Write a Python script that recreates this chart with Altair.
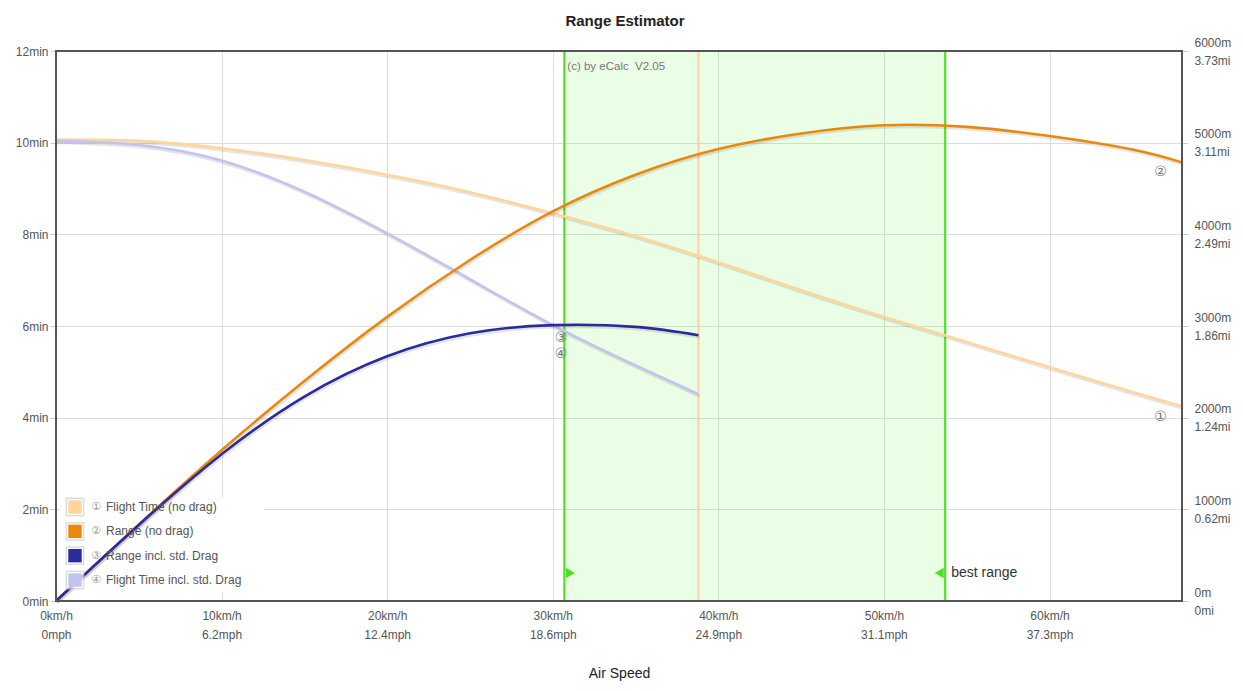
import altair as alt
import pandas as pd

TITLE = "Range Estimator"
X_TITLE = "Air Speed"
COPYRIGHT = "(c) by eCalc\u00a0 V2.05"
BEST_LABEL = "best range"
FONT = "Liberation Sans"

series_names = ["Flight Time (no drag)", "Range (no drag)",
                "Range incl. std. Drag", "Flight Time incl. std. Drag"]
series_marks = ["\u2460", "\u2461", "\u2462", "\u2463"]
series_colors = ["#ffd59e", "#e8890b", "#2b2b9e", "#c3c3f0"]

# speeds in km/h
speed_full = [0, 5, 10, 15, 20, 25, 30, 35, 40, 45, 50, 55, 60, 65, 68]
time_nodrag = [10.07, 10.04, 9.88, 9.62, 9.30, 8.92, 8.46, 7.96, 7.39, 6.78,
               6.20, 5.65, 5.10, 4.56, 4.25]            # minutes
range_nodrag = [0, 835, 1645, 2400, 3100, 3720, 4250, 4650, 4930, 5100,
                5190, 5172, 5072, 4925, 4785]            # metres

speed_drag = [0, 5, 10, 15, 20, 25, 30, 35, 38.8]
time_drag = [10.04, 9.95, 9.61, 8.93, 8.02, 7.02, 6.02, 5.14, 4.51]  # minutes
range_drag = [0, 830, 1600, 2230, 2670, 2920, 3010, 2990, 2900]      # metres

x_ticks = [0, 10, 20, 30, 40, 50, 60]
min_ticks = [0, 2, 4, 6, 8, 10, 12]
m_ticks = [0, 1000, 2000, 3000, 4000, 5000, 6000]

best_start = 30.7
best_end = 53.7
drag_end = 38.8

# circled series markers (speed, minutes-scale position)
marker_speed = [66.7, 66.7, 30.5, 30.5]
marker_minutes = [4.01, 9.35, 5.73, 5.40]

GREEN = "#4fe026"
W, H = 1126, 550

time_df = pd.concat([
    pd.DataFrame({"speed": speed_full, "value": time_nodrag, "series": series_names[0]}),
    pd.DataFrame({"speed": speed_drag, "value": time_drag, "series": series_names[3]}),
])
range_df = pd.concat([
    pd.DataFrame({"speed": speed_full, "value": range_nodrag, "series": series_names[1]}),
    pd.DataFrame({"speed": speed_drag, "value": range_drag, "series": series_names[2]}),
])
marker_df = pd.DataFrame({"speed": marker_speed, "value": marker_minutes, "mark": series_marks})
legend_df = pd.DataFrame({"row": [0, 1, 2, 3], "series": series_names, "mark": series_marks})
band_df = pd.DataFrame({"start": [best_start], "end": [best_end]})
drag_df = pd.DataFrame({"pos": [drag_end]})
best_df = pd.DataFrame({"pos": [best_start, best_end]})

color_enc = alt.Color("series:N", scale=alt.Scale(domain=series_names, range=series_colors), legend=None)

x_axis = alt.Axis(values=x_ticks, grid=True, gridColor="#dddddd", ticks=False, domain=False,
                  labelExpr="[datum.value + 'km/h', datum.value == 0 ? '0mph' : format(datum.value / 1.609344, '.1f') + 'mph']",
                  labelColor="#555555", labelFont=FONT, labelFontSize=12, labelPadding=9,
                  labelLineHeight=19, labelFlush=False, labelOverlap=False, labelBound=False,
                  title=X_TITLE, titleFont=FONT, titleFontSize=14, titleFontWeight="normal",
                  titleColor="#222222", titlePadding=26)
x_scale = alt.Scale(domain=[0, 68], nice=False, zero=False)


def X(field):
    return alt.X(field, type="quantitative", scale=x_scale, axis=x_axis)


y_time = alt.Y("value:Q", scale=alt.Scale(domain=[0, 12], nice=False),
               axis=alt.Axis(orient="left", values=min_ticks, labelExpr="datum.value + 'min'",
                             grid=True, gridColor="#dddddd", domain=False, tickSize=6,
                             tickColor="#cccccc", labelPadding=2, labelColor="#555555",
                             labelFont=FONT, labelFontSize=12, labelFlush=False,
                             labelOverlap=False, labelBound=False, title=None))
y_range = alt.Y("value:Q", scale=alt.Scale(domain=[0, 6000], nice=False),
                axis=alt.Axis(orient="right", values=m_ticks,
                              labelExpr="datum.value == 0 ? ['0m', '0mi'] : [datum.value + 'm', format(datum.value / 1609.344, '.2f') + 'mi']",
                              grid=False, domain=False, tickSize=6, tickColor="#cccccc",
                              labelPadding=6, labelColor="#555555", labelFont=FONT,
                              labelFontSize=12, labelLineHeight=18, labelBaseline="middle",
                              labelOffset=-9,
                              labelFlush=False, labelOverlap=False, labelBound=False, title=None))

band = alt.Chart(band_df).mark_rect(color="#7ef060", opacity=0.16).encode(
    x=X("start"), x2="end", y=alt.value(0), y2=alt.value(H))
drag_rule = alt.Chart(drag_df).mark_rule(color="#ffcfa6", strokeWidth=2).encode(x=X("pos"))
best_rules = alt.Chart(best_df).mark_rule(color=GREEN, strokeWidth=2.2).encode(x=X("pos"))
tri_left = alt.Chart(pd.DataFrame({"pos": [best_start]})).mark_point(
    shape="triangle-right", filled=True, size=110, color=GREEN, opacity=1, xOffset=6).encode(
    x=X("pos"), y=alt.value(522))
tri_right = alt.Chart(pd.DataFrame({"pos": [best_end]})).mark_point(
    shape="triangle-left", filled=True, size=110, color=GREEN, opacity=1, xOffset=-6).encode(
    x=X("pos"), y=alt.value(522))
best_text = alt.Chart(pd.DataFrame({"pos": [best_end], "t": [BEST_LABEL]})).mark_text(
    align="left", baseline="middle", dx=6, fontSize=14, font=FONT, color="#333333").encode(
    x=X("pos"), y=alt.value(522), text="t:N")
copy_text = alt.Chart(pd.DataFrame({"pos": [best_start], "t": [COPYRIGHT]})).mark_text(
    align="left", baseline="middle", dx=3, fontSize=11.5, font=FONT, color="#777777").encode(
    x=X("pos"), y=alt.value(16), text="t:N")

legend_box = alt.Chart(pd.DataFrame({"a": [0]})).mark_rect(color="white", opacity=1).encode(
    x=alt.value(4), x2=alt.value(208), y=alt.value(446), y2=alt.value(541))

time_layer = alt.layer(
    alt.Chart(time_df).mark_line(interpolate="natural", color="#000000", opacity=0.10,
                                 strokeWidth=3, yOffset=2, xOffset=1).encode(
        x=X("speed"), y=y_time, detail="series:N"),
    alt.Chart(time_df).mark_line(interpolate="natural", strokeWidth=2.6).encode(
        x=X("speed"), y=y_time, color=color_enc),
    alt.Chart(marker_df).mark_text(fontSize=14, font="DejaVu Sans", color="#777777").encode(
        x=X("speed"), y=y_time, text="mark:N"),
)
range_layer = alt.layer(
    alt.Chart(range_df).mark_line(interpolate="natural", color="#000000", opacity=0.10,
                                  strokeWidth=3, yOffset=2, xOffset=1).encode(
        x=X("speed"), y=y_range, detail="series:N"),
    alt.Chart(range_df).mark_line(interpolate="natural", strokeWidth=2.6).encode(
        x=X("speed"), y=y_range, color=color_enc),
)

leg_y = alt.Y("row:O", scale=alt.Scale(type="point", domain=[0, 1, 2, 3], range=[456, 529], padding=0),
              axis=None)
legend_frames = alt.Chart(legend_df).mark_square(size=300, filled=True, color="white",
                                                 stroke="#cfcfcf", strokeWidth=1.5).encode(
    x=alt.value(19), y=leg_y)
legend_squares = alt.Chart(legend_df).mark_square(size=180, filled=True, opacity=1).encode(
    x=alt.value(19), y=leg_y, color=color_enc)
legend_marks = alt.Chart(legend_df).mark_text(align="left", baseline="middle", fontSize=11,
                                              font="DejaVu Sans", color="#999999").encode(
    x=alt.value(35), y=leg_y, text="mark:N")
legend_text = alt.Chart(legend_df).mark_text(align="left", baseline="middle", fontSize=12,
                                             font=FONT, color="#555555").encode(
    x=alt.value(50), y=leg_y, text="series:N")

frame = alt.Chart(pd.DataFrame({"a": [0]})).mark_rect(
    fill=None, filled=False, stroke="#555555", strokeWidth=2).encode(
    x=alt.value(0), x2=alt.value(W), y=alt.value(0), y2=alt.value(H))

chart = alt.layer(
    band, drag_rule, best_rules, tri_left, tri_right, best_text, copy_text, legend_box,
    time_layer, range_layer, legend_frames, legend_squares, legend_marks, legend_text, frame,
).resolve_scale(y="independent").properties(
    width=W, height=H,
    title=alt.Title(TITLE, fontSize=15, fontWeight="bold", font=FONT, color="#222222",
                    anchor="middle", offset=7, dx=6),
    autosize=alt.AutoSizeParams(type="none"),
    padding={"left": 48, "top": 43, "right": 53, "bottom": 82},
).configure_view(stroke="#555555", strokeWidth=2, fill="white").configure(background="white")

chart.save("out.html", embed_options={"renderer": "svg", "actions": False})
